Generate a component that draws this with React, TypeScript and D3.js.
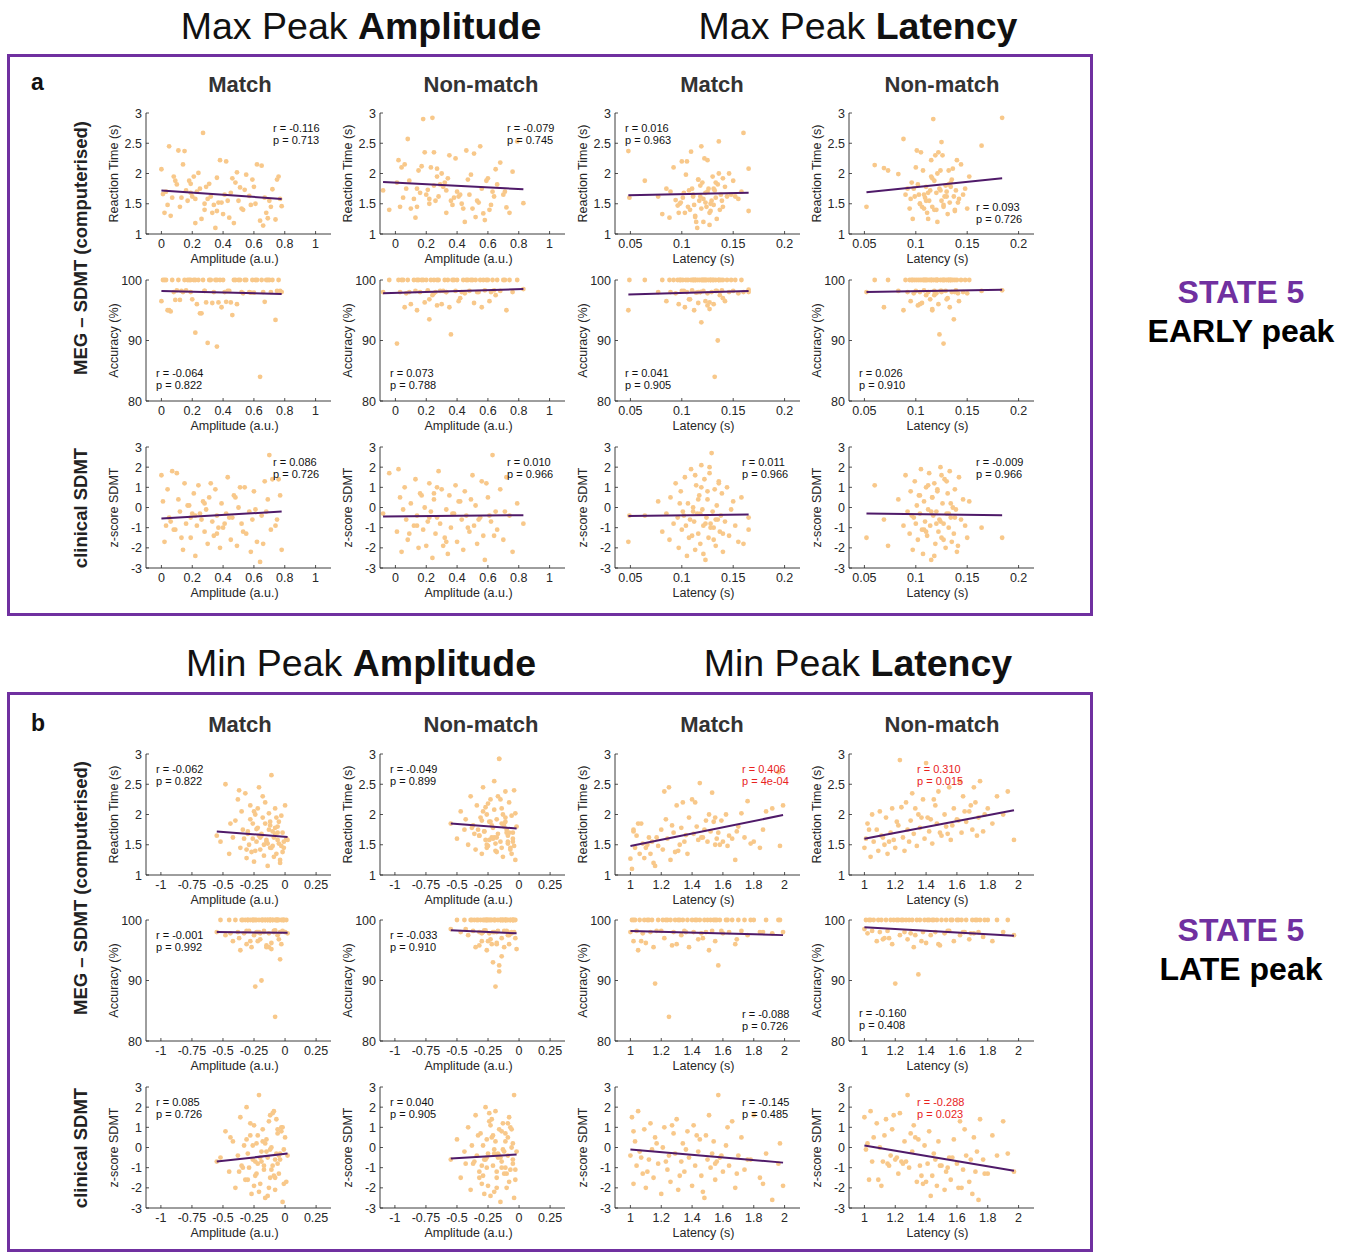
import React from 'react';
import * as d3 from 'd3';

// ---------- DATA ----------
// Panel a (EARLY peak, max peak) : shared x per column
const a1X = [0.00,0.02,0.04,0.05,0.07,0.09,0.11,0.12,0.14,0.15,0.16,0.17,0.19,0.20,0.21,0.22,0.23,0.24,0.26,0.27,0.28,0.29,0.30,0.31,0.33,0.34,0.35,0.36,0.38,0.39,0.40,0.42,0.43,0.45,0.46,0.47,0.49,0.50,0.52,0.54,0.55,0.57,0.59,0.60,0.62,0.64,0.65,0.67,0.69,0.71,0.72,0.74,0.76,0.78,0.01,0.06,0.13,0.18,0.25,0.32,0.37,0.44,0.48,0.53,0.61,0.66,0.70,0.75,0.03,0.10,0.22,0.28,0.36,0.41,0.51,0.58,0.68,0.77,0.08,0.19];
const a1RT = [2.07,1.35,1.48,2.45,1.60,1.88,2.38,1.45,2.15,2.37,1.72,1.55,1.83,1.62,1.95,1.18,1.70,2.01,1.25,2.67,1.40,1.78,1.58,1.83,1.35,1.48,1.10,1.93,2.22,1.52,1.33,2.20,1.55,1.68,1.92,1.18,2.02,1.55,1.42,1.73,1.98,1.63,1.90,1.78,2.15,1.22,2.13,1.60,1.26,1.45,1.74,1.24,1.95,1.46,1.66,1.30,1.60,1.88,1.75,1.62,1.52,1.27,1.85,1.40,1.50,1.14,1.55,1.90,1.70,1.82,1.58,1.50,1.38,1.65,1.77,1.48,1.35,1.58,1.95,1.68];
const a1Acc = [96.5,100,95.0,95.0,100,96.7,100,96.7,98.0,100,98.3,100,98.0,96.8,100,91.3,96.0,100,94.5,100,98.2,96.3,89.6,100,96.2,98.0,100,89.0,100,95.5,100,96.4,98.2,96.3,94.2,100,96.0,100,98.0,100,100,98.0,100,97.9,100,84.0,100,96.4,100,98.0,100,93.4,100,98.0,100,94.8,98.2,100,94.5,100,96.3,98.2,100,97.8,100,98.0,100,98.2,100,98.3,100,98.2,100,98.0,100,97.9,100,98.2,98.0,100];
const a1Z = [1.6,-1.7,0.9,-0.5,1.8,-1.1,0.4,-0.2,-2.1,1.2,-0.8,0.1,-1.5,-0.3,0.7,-2.4,-0.9,1.1,-0.6,0.3,-1.2,-0.1,-1.8,0.5,-0.7,-1.4,0.9,-0.4,-2.0,0.2,-1.0,-0.3,1.5,-1.6,-0.5,0.6,-1.9,0.0,-0.8,1.0,-1.3,-0.2,-0.6,0.8,-1.7,-2.7,-0.4,1.3,0.4,-1.1,1.4,-0.9,1.4,-2.1,0.3,-0.7,-1.5,0.1,-0.3,1.2,-1.0,-0.5,0.5,-1.2,-0.1,-1.8,2.6,-0.6,-0.9,1.7,-0.4,0.2,-1.3,-0.8,1.0,-2.2,-0.2,0.6,-1.1,-0.5];

const a2X = [-0.08,-0.04,0.01,0.03,0.04,0.06,0.07,0.08,0.10,0.12,0.13,0.14,0.15,0.16,0.18,0.19,0.20,0.21,0.22,0.23,0.24,0.25,0.26,0.27,0.28,0.29,0.30,0.32,0.33,0.34,0.35,0.36,0.38,0.39,0.40,0.41,0.43,0.44,0.45,0.46,0.48,0.50,0.51,0.52,0.53,0.55,0.56,0.57,0.58,0.60,0.62,0.63,0.65,0.66,0.68,0.70,0.72,0.74,0.76,0.79,0.83,0.05,0.09,0.17,0.22,0.27,0.31,0.37,0.42,0.47,0.54,0.59,0.64,0.71,0.25,0.14,0.33,0.49,0.61,0.02];
const a2RT = [1.72,1.40,1.85,1.45,2.10,2.15,1.75,2.57,1.42,1.58,1.27,1.75,2.05,1.68,2.90,2.35,1.65,1.73,1.50,2.10,2.92,2.35,1.55,2.08,1.62,1.82,2.00,1.85,1.35,1.92,2.30,1.55,1.60,2.25,1.70,1.62,1.50,1.42,1.20,2.38,1.65,1.42,2.33,1.28,1.55,2.45,1.75,1.34,1.23,1.92,1.48,1.70,2.07,1.82,2.18,1.65,1.44,1.35,2.03,2.53,1.51,1.60,1.88,2.12,1.58,1.95,1.78,1.48,1.65,1.90,1.52,1.88,1.62,1.70,1.80,1.45,1.72,1.98,1.40,2.22];
const a2Acc = [98.0,100,89.5,98.0,100,95.5,97.8,100,96.0,100,98.2,95.0,100,98.0,100,96.3,100,98.3,93.5,100,97.5,100,98.0,95.8,100,98.2,96.0,100,98.0,100,95.5,91.0,100,98.2,100,96.5,98.0,100,97.8,100,98.2,100,96.2,100,98.0,100,95.5,100,98.3,100,98.0,100,97.5,100,98.2,100,95.0,100,98.0,100,98.5,100,98.0,100,96.8,100,98.2,100,97.0,100,98.0,100,98.3,100,97.8,100,98.0,100,96.5,100];
const a2Z = [-0.3,1.7,-1.2,0.5,-2.2,1.0,-0.6,-1.6,0.2,-0.9,1.4,-0.4,-2.0,0.7,-1.1,0.0,-1.9,-0.7,1.2,-0.2,-2.5,0.4,-1.3,-0.5,1.8,-0.8,0.9,-1.5,-0.1,-2.3,0.6,-1.0,-0.3,1.1,-1.7,0.3,-0.6,-2.1,0.8,-0.4,-1.2,1.6,-0.9,0.1,-1.8,-0.5,1.3,-1.4,-2.6,0.5,-0.7,2.6,-0.2,-1.1,0.9,-1.6,1.5,-0.4,-2.2,0.2,-0.8,-0.1,-1.3,0.6,-0.5,1.0,-1.9,-0.3,0.3,-1.0,-0.6,1.2,-1.4,-0.2,0.7,-0.9,-1.7,0.4,-0.4,1.9];

const a3X = [0.048,0.049,0.064,0.077,0.081,0.085,0.088,0.089,0.092,0.094,0.096,0.097,0.099,0.100,0.101,0.103,0.104,0.105,0.106,0.108,0.109,0.110,0.111,0.112,0.113,0.114,0.115,0.116,0.117,0.118,0.119,0.120,0.121,0.122,0.123,0.124,0.125,0.126,0.127,0.128,0.129,0.130,0.131,0.132,0.133,0.134,0.135,0.136,0.137,0.138,0.139,0.140,0.142,0.144,0.146,0.148,0.150,0.152,0.155,0.158,0.160,0.165,0.098,0.107,0.113,0.118,0.121,0.125,0.128,0.133,0.136,0.140,0.111,0.116,0.123,0.127,0.131,0.102,0.119,0.165];
const a3RT = [2.37,1.60,1.88,1.62,1.33,1.75,1.27,1.70,2.10,1.56,1.47,1.35,1.52,2.20,1.60,1.35,1.98,2.20,1.45,1.40,2.36,1.75,1.65,1.48,1.28,1.20,1.10,1.90,1.55,1.62,2.45,1.85,1.20,2.25,1.68,1.45,2.22,1.75,1.15,1.38,1.55,1.95,1.48,1.72,1.60,1.25,1.82,2.00,1.40,1.65,1.55,1.92,1.78,1.62,2.00,1.65,1.88,1.62,1.58,1.70,2.67,2.08,1.50,1.72,1.30,1.80,1.58,1.70,1.50,1.85,2.53,1.45,1.62,1.90,1.52,1.35,1.75,1.68,1.42,1.38];
const a3Acc = [95.0,100,100,98.0,100,96.5,100,98.0,100,97.8,100,96.0,100,98.2,100,95.5,100,98.0,100,96.8,100,98.3,100,95.0,100,97.9,100,96.2,100,98.0,93.0,100,98.2,100,96.5,100,97.8,100,95.2,100,98.0,100,96.0,84.0,100,98.2,90.0,100,97.5,100,98.3,100,96.5,100,98.0,100,98.2,100,97.8,100,98.0,98.4,100,96.8,100,98.0,100,95.8,100,98.2,100,97.0,100,98.0,100,96.3,100,98.2,100,98.0];
const a3Z = [-1.7,-0.4,-0.4,0.3,-1.2,-0.3,-1.6,0.5,-0.8,1.2,-0.5,-2.0,0.8,-1.1,-0.2,1.5,-0.9,-2.4,0.2,-0.6,1.9,-1.4,0.0,-0.7,-2.1,1.1,-0.3,-1.3,0.6,-1.8,2.1,-0.1,-0.9,1.4,-2.6,-0.5,0.4,-1.5,1.7,-0.8,2.7,-0.2,-1.0,0.9,-1.9,0.1,-0.6,1.3,-1.2,-0.4,0.7,-2.2,-0.7,1.0,-1.4,-0.1,0.3,-0.9,-1.7,0.5,-1.8,-0.5,0.2,-1.5,1.6,-0.3,-2.3,0.8,-1.0,-0.6,1.2,-1.3,-0.2,0.4,-0.8,2.0,-1.6,-0.4,1.0,-1.1];

const a4X = [0.052,0.060,0.069,0.073,0.083,0.088,0.090,0.092,0.094,0.095,0.097,0.098,0.099,0.100,0.101,0.102,0.103,0.104,0.105,0.106,0.107,0.108,0.109,0.110,0.111,0.112,0.113,0.114,0.115,0.116,0.117,0.118,0.119,0.120,0.121,0.122,0.123,0.124,0.125,0.126,0.127,0.128,0.129,0.130,0.131,0.132,0.133,0.134,0.135,0.136,0.137,0.138,0.139,0.140,0.142,0.144,0.146,0.148,0.150,0.152,0.164,0.184,0.096,0.104,0.108,0.112,0.115,0.118,0.121,0.124,0.127,0.130,0.134,0.138,0.110,0.116,0.120,0.125,0.132,0.141];
const a4RT = [1.45,2.14,2.09,2.05,1.99,2.57,1.65,1.75,1.42,1.58,1.25,1.75,1.62,2.10,2.38,1.82,1.65,1.50,2.35,1.45,2.05,1.42,1.60,1.78,1.35,1.68,1.55,1.72,2.22,1.45,2.90,1.88,2.30,1.40,1.20,2.35,1.75,2.05,1.55,2.30,1.45,1.62,1.80,1.70,1.33,2.05,1.52,1.78,1.90,2.08,1.62,1.40,1.72,2.22,1.58,2.15,1.65,1.75,1.42,1.95,2.46,2.92,1.85,1.50,1.65,1.25,1.95,1.40,2.00,1.72,1.48,1.62,1.85,1.38,1.55,1.92,1.68,2.52,1.82,1.52];
const a4Acc = [98.0,100,95.5,100,98.2,95.0,100,98.0,100,96.5,100,97.8,100,98.2,100,95.8,100,98.0,100,96.2,100,98.3,100,97.5,100,98.0,100,96.8,100,95.2,100,98.2,100,97.8,100,96.0,91.0,100,98.0,100,89.5,100,98.2,100,97.0,100,95.5,100,98.0,100,93.5,100,98.3,100,96.5,100,98.0,100,97.8,100,98.2,98.3,100,96.0,100,98.0,100,97.5,100,98.2,100,96.8,100,98.0,100,95.0,100,98.2,100,97.8];
const a4Z = [-1.5,1.1,-0.6,-1.9,0.4,-0.9,1.6,-0.2,-1.3,0.8,-2.1,-0.5,1.3,-0.8,0.1,-1.6,0.6,-0.3,1.9,-1.1,-2.3,0.3,-0.7,1.0,-1.4,-0.1,1.7,-0.9,-2.6,0.5,-0.4,1.2,-1.8,-0.2,0.9,-1.2,-0.6,2.0,-1.5,0.2,-0.8,1.4,-2.0,-0.3,0.7,-1.0,1.8,-0.5,-1.7,0.0,-1.3,0.9,-0.1,-2.2,1.5,-0.6,0.4,-0.9,-1.5,0.3,-1.0,-1.5,-0.4,0.6,-1.1,1.1,-0.2,-2.4,0.8,-0.7,-1.6,1.3,0.2,-0.5,-1.2,0.5,-0.8,1.6,-0.3,-1.9];

// Panel b (LATE peak, min peak)
const b1X = [-0.55,-0.52,-0.48,-0.45,-0.42,-0.40,-0.38,-0.36,-0.35,-0.33,-0.32,-0.31,-0.30,-0.29,-0.28,-0.27,-0.26,-0.25,-0.24,-0.23,-0.22,-0.21,-0.20,-0.19,-0.18,-0.17,-0.16,-0.15,-0.14,-0.13,-0.12,-0.11,-0.10,-0.09,-0.08,-0.07,-0.06,-0.05,-0.04,-0.03,-0.02,-0.01,0.00,0.01,0.02,-0.34,-0.28,-0.24,-0.21,-0.18,-0.15,-0.12,-0.09,-0.06,-0.03,-0.25,-0.20,-0.16,-0.11,-0.07,-0.04,-0.30,-0.22,-0.14,-0.08,-0.02,-0.37,-0.26,-0.17,-0.10,-0.05,-0.01,-0.31,-0.19,-0.13,-0.06,-0.23,-0.12,-0.44,-0.08];
const b1RT = [1.65,1.55,2.50,1.35,1.62,1.90,2.25,1.45,2.05,1.60,2.35,1.28,1.72,1.50,2.15,1.38,1.85,1.22,2.00,1.55,1.78,2.45,1.42,1.68,1.95,1.32,2.20,1.58,1.15,1.75,1.88,2.65,1.48,1.62,2.10,1.35,1.80,1.52,1.25,1.98,1.70,1.45,2.15,1.60,1.58,1.75,1.92,1.40,1.65,2.30,1.55,1.82,1.30,1.70,1.48,2.05,1.62,1.85,1.45,1.95,1.20,1.68,2.10,1.52,1.78,1.38,2.40,1.60,1.50,1.72,1.88,1.55,1.42,1.65,2.02,1.58,1.76,1.45,1.85,1.68];
const b1Acc = [98.0,100,97.5,100,96.5,100,98.0,95.0,100,97.8,100,96.0,100,98.2,100,95.5,100,97.5,89.0,100,98.0,100,96.8,90.0,100,98.2,100,95.5,100,97.8,100,96.2,100,98.0,84.0,100,97.5,100,93.5,100,98.2,100,98.0,100,97.8,100,96.5,100,98.0,100,95.8,100,98.2,100,96.0,100,97.8,100,95.2,100,98.0,100,96.5,100,98.3,100,97.0,100,98.0,100,96.8,100,98.2,100,95.5,100,98.0,100,97.8,100];
const b1Z = [-0.7,-0.5,0.8,-1.2,0.3,-2.0,-0.4,1.5,-0.9,0.1,-1.6,2.0,-0.3,-1.0,0.6,-2.3,-0.6,1.1,-1.4,0.2,-0.8,2.6,-1.8,-0.2,0.9,-1.1,-2.5,0.4,-0.5,1.3,-1.5,0.0,-0.9,1.8,-2.1,-0.3,0.7,-1.3,-0.6,1.0,-2.7,-0.1,0.5,-1.7,-0.4,-1.0,1.2,-0.7,-2.2,0.3,-0.2,1.6,-1.4,-0.8,0.8,-1.9,-0.5,0.2,-1.1,1.4,-0.3,-1.6,0.6,-2.4,-0.6,1.0,-1.2,0.1,-0.9,1.7,-0.4,-1.8,0.4,-0.7,-2.0,0.9,-1.3,-0.1,0.5,-1.5];

const b2X = [-0.55,-0.50,-0.47,-0.44,-0.41,-0.39,-0.37,-0.35,-0.34,-0.32,-0.31,-0.30,-0.29,-0.28,-0.27,-0.26,-0.25,-0.24,-0.23,-0.22,-0.21,-0.20,-0.19,-0.18,-0.17,-0.16,-0.15,-0.14,-0.13,-0.12,-0.11,-0.10,-0.09,-0.08,-0.07,-0.06,-0.05,-0.04,-0.03,-0.02,-0.33,-0.29,-0.26,-0.23,-0.20,-0.17,-0.14,-0.11,-0.08,-0.05,-0.27,-0.22,-0.18,-0.13,-0.09,-0.04,-0.30,-0.24,-0.16,-0.10,-0.06,-0.36,-0.25,-0.19,-0.12,-0.07,-0.03,-0.28,-0.21,-0.15,-0.43,-0.38,-0.32,-0.26,-0.20,-0.14,-0.09,-0.05,-0.18,-0.11];
const b2RT = [1.85,1.60,2.05,1.75,1.50,2.30,1.82,1.42,2.15,1.65,1.95,1.35,2.45,1.72,1.58,2.00,1.48,1.88,2.25,1.62,1.78,2.55,1.40,1.92,1.68,2.92,1.55,2.10,1.30,1.85,2.38,1.70,1.52,2.20,1.45,1.98,1.60,2.40,1.25,1.80,1.75,2.05,1.50,1.88,1.62,2.30,1.45,1.95,1.70,1.55,2.12,1.82,1.38,2.00,1.65,1.48,1.90,1.58,2.92,1.75,1.35,1.68,2.18,1.52,1.80,1.42,2.02,1.72,1.60,2.25,1.92,1.78,1.65,1.45,2.08,1.85,1.55,1.70,1.62,1.88];
const b2Acc = [98.5,100,98.0,100,97.5,100,98.2,95.5,100,98.0,100,96.5,100,98.3,100,95.0,100,97.8,100,96.0,93.0,100,89.0,98.0,100,91.5,100,97.0,100,95.5,100,98.2,100,96.0,100,97.8,100,98.0,100,95.2,100,98.0,100,96.8,100,98.2,94.0,100,97.5,100,98.3,100,96.0,100,98.0,100,97.8,100,92.5,100,98.0,100,96.5,100,98.2,100,97.0,100,98.0,100,98.5,100,95.8,100,98.0,100,97.5,100,96.2,100];
const b2Z = [-0.6,0.4,-1.5,-0.2,1.0,-2.1,-0.8,1.6,-0.4,-1.2,0.7,-1.8,0.1,-0.6,2.0,-1.0,-0.3,1.3,-2.4,0.5,-0.9,-0.1,1.8,-1.5,-0.5,0.9,-2.7,-0.7,1.2,-1.3,0.3,-2.0,-0.4,1.5,-1.1,0.0,-0.8,2.6,-1.6,-0.2,0.6,-1.4,-0.5,1.1,-2.2,-0.3,0.8,-1.0,-1.7,0.2,-0.6,1.4,-1.2,-0.1,0.5,-2.5,-0.9,1.7,-0.4,-1.3,0.9,-0.7,-1.9,0.3,-0.2,1.0,-1.1,-2.3,0.6,-0.5,-0.8,0.1,-1.5,0.4,-0.3,-1.0,1.2,-0.6,-2.0,0.7];

const b3X = [1.00,1.01,1.02,1.03,1.04,1.05,1.06,1.08,1.09,1.10,1.12,1.13,1.14,1.15,1.16,1.18,1.20,1.21,1.22,1.24,1.25,1.26,1.28,1.29,1.30,1.31,1.33,1.34,1.35,1.37,1.38,1.40,1.41,1.42,1.44,1.45,1.46,1.48,1.49,1.50,1.51,1.52,1.53,1.54,1.55,1.56,1.57,1.58,1.60,1.62,1.64,1.66,1.68,1.70,1.72,1.74,1.76,1.80,1.84,1.88,1.92,1.96,1.99,1.02,1.07,1.11,1.17,1.23,1.27,1.32,1.36,1.43,1.47,1.55,1.59,1.63,1.69,1.78,1.86,1.97];
const b3RT = [1.27,1.10,1.75,1.45,1.65,1.85,1.35,1.52,1.28,1.45,1.62,1.35,1.55,1.20,1.15,1.48,1.75,1.42,2.38,1.60,2.45,1.25,1.70,1.38,2.15,1.40,1.78,2.20,1.55,1.35,1.95,2.25,1.68,2.20,1.58,2.52,1.62,1.75,1.90,1.55,2.00,1.72,2.36,1.88,1.95,1.60,1.70,1.50,1.55,2.00,1.65,1.60,1.25,1.80,2.02,1.62,2.22,1.55,1.45,2.05,2.10,2.70,2.15,1.72,1.85,1.50,1.62,1.92,1.82,1.50,1.66,1.80,1.62,1.50,1.90,1.48,1.72,1.52,1.75,1.48];
const b3Acc = [98.0,100,96.5,100,98.2,95.0,100,97.8,100,96.2,100,98.0,100,95.5,89.5,100,98.2,100,97.0,100,84.0,100,98.0,100,96.0,100,97.5,100,98.2,100,95.5,100,98.0,100,96.8,100,97.8,100,98.0,100,95.0,100,98.2,100,96.5,100,92.5,100,97.8,100,98.0,100,96.0,100,98.2,100,97.5,100,98.0,100,97.8,100,98.0,100,96.5,100,98.2,100,95.8,100,98.0,100,97.0,100,98.2,100,96.8,100,98.0,100];
const b3Z = [-0.4,1.5,-1.8,0.3,-0.9,1.8,-0.2,-1.3,0.9,-2.0,-0.6,1.2,-0.1,-1.5,0.5,-0.8,-2.3,0.0,1.0,-1.1,-0.4,-1.7,0.7,-0.3,1.4,-2.1,-0.7,0.2,-1.2,0.8,-0.5,-1.9,1.1,-0.9,-0.2,0.4,-1.4,-2.5,0.6,-0.6,1.6,-1.0,-0.3,0.3,-1.6,-0.7,2.6,-0.5,-1.2,0.1,-0.9,1.3,-2.0,-0.4,0.5,-1.1,-0.6,1.6,-1.5,-0.3,-2.6,-0.8,-1.9,0.8,-0.5,-1.2,0.2,-0.7,1.1,-1.4,-0.1,0.6,-2.2,-0.8,-0.4,1.0,-1.3,-0.6,-1.8,0.2];

const b4X = [1.00,1.01,1.02,1.04,1.05,1.06,1.08,1.09,1.10,1.11,1.13,1.14,1.15,1.17,1.18,1.19,1.20,1.22,1.23,1.25,1.26,1.27,1.28,1.29,1.30,1.31,1.32,1.34,1.35,1.36,1.38,1.39,1.40,1.42,1.43,1.44,1.46,1.47,1.48,1.50,1.52,1.53,1.55,1.56,1.58,1.60,1.62,1.63,1.64,1.66,1.68,1.70,1.71,1.72,1.74,1.75,1.77,1.80,1.83,1.86,1.90,1.93,1.97,1.03,1.12,1.21,1.33,1.41,1.49,1.57,1.65,1.73,1.16,1.24,1.37,1.45,1.54,1.61,1.69,1.78];
const b4RT = [1.45,1.60,1.85,1.30,2.00,1.55,1.75,1.40,2.05,1.65,1.50,1.95,1.35,1.70,2.10,1.58,1.45,1.82,2.90,1.62,1.40,2.20,1.75,1.55,1.90,2.35,1.68,1.48,2.00,1.78,2.25,1.60,2.85,1.72,1.92,1.52,2.15,1.85,2.38,1.65,2.00,1.80,2.45,1.58,2.10,1.92,2.55,1.70,2.30,1.88,2.05,1.75,2.45,2.20,1.95,2.55,1.72,2.10,1.85,2.30,2.00,2.38,1.58,1.75,1.62,1.88,2.10,1.95,1.70,1.82,2.05,1.65,1.55,2.12,1.95,2.25,1.68,1.90,2.15,2.00];
const b4Acc = [98.5,100,97.8,100,98.2,100,96.5,100,98.0,100,97.0,100,98.2,100,96.0,100,89.5,100,97.5,100,98.0,100,96.8,100,97.8,100,95.5,100,91.0,100,98.0,100,96.2,100,97.5,100,98.0,100,96.0,100,97.8,100,98.2,100,96.5,100,97.5,100,98.0,100,96.8,100,97.8,100,98.0,100,97.2,100,96.5,100,98.0,100,97.5,100,96.8,100,97.5,100,95.8,100,98.0,100,97.0,100,96.5,100,98.2,100,97.8,100];
const b4Z = [1.5,-0.1,0.2,1.8,-0.7,0.5,1.2,-1.6,0.0,-1.9,0.6,1.4,-0.8,-0.4,0.9,1.6,-0.6,-1.3,1.7,-0.8,0.3,-0.7,2.6,-1.0,0.7,-0.2,1.1,-1.7,0.4,-0.9,-1.8,0.1,-1.7,0.8,-2.4,-1.4,-0.6,-1.9,0.3,-0.9,-2.1,-1.2,-0.5,-1.6,0.4,-0.8,1.3,-2.0,-1.1,-0.4,-1.7,-2.3,0.5,-1.2,-2.6,1.4,-0.6,-1.3,0.6,-0.4,1.3,-0.3,-1.2,-1.6,-0.7,-0.5,0.5,-0.8,-0.9,-0.5,0.9,-0.2,-0.9,-0.7,-1.4,-0.3,-1.0,-2.0,-0.6,-1.3];

// Regression fit endpoints [x0, y0, x1, y1] (row-major: RT, Acc, z; col 1..4)
const fitsA = [
  [0, 1.72, 0.78, 1.58], [-0.08, 1.86, 0.83, 1.74], [0.048, 1.64, 0.165, 1.68], [0.052, 1.69, 0.184, 1.92],
  [0, 98.2, 0.78, 97.7], [-0.08, 97.8, 0.83, 98.5], [0.048, 97.6, 0.165, 98.2], [0.052, 98.0, 0.184, 98.4],
  [0, -0.55, 0.78, -0.2], [-0.08, -0.45, 0.83, -0.38], [0.048, -0.42, 0.165, -0.35], [0.052, -0.3, 0.184, -0.38],
];
const fitsB = [
  [-0.55, 1.72, 0.02, 1.63], [-0.55, 1.85, -0.02, 1.77], [1.0, 1.48, 1.99, 1.99], [1.0, 1.6, 1.97, 2.07],
  [-0.55, 98.0, 0.02, 97.9], [-0.55, 98.3, -0.02, 97.8], [1.0, 98.2, 1.99, 97.5], [1.0, 98.8, 1.97, 97.4],
  [-0.55, -0.7, 0.02, -0.3], [-0.55, -0.55, -0.02, -0.35], [1.0, -0.1, 1.99, -0.75], [1.0, 0.1, 1.97, -1.15],
];
const statsA = [
  ['-0.116', '0.713'], ['-0.079', '0.745'], ['0.016', '0.963'], ['0.093', '0.726'],
  ['-0.064', '0.822'], ['0.073', '0.788'], ['0.041', '0.905'], ['0.026', '0.910'],
  ['0.086', '0.726'], ['0.010', '0.966'], ['0.011', '0.966'], ['-0.009', '0.966'],
];
const statsB = [
  ['-0.062', '0.822'], ['-0.049', '0.899'], ['0.406', '4e-04'], ['0.310', '0.015'],
  ['-0.001', '0.992'], ['-0.033', '0.910'], ['-0.088', '0.726'], ['-0.160', '0.408'],
  ['0.085', '0.726'], ['0.040', '0.905'], ['-0.145', '0.485'], ['-0.288', '0.023'],
];
const statPosA = ['TR', 'TR', 'TL', 'BR', 'BL', 'BL', 'BL', 'BL', 'TR', 'TR', 'TR', 'TR'];
const statPosB = ['TL', 'TL', 'TR', 'TC', 'TL', 'TL', 'BR', 'BL', 'TL', 'TL', 'TR', 'TC'];
const sigB = [false, false, true, true, false, false, false, false, false, false, false, true];

const colTitles = ['Match', 'Non-match', 'Match', 'Non-match'];
const ampTicksA = [0, 0.2, 0.4, 0.6, 0.8, 1];
const latTicksA = [0.05, 0.1, 0.15, 0.2];
const ampTicksB = [-1, -0.75, -0.5, -0.25, 0, 0.25];
const latTicksB = [1, 1.2, 1.4, 1.6, 1.8, 2];
const rtTicks = [1, 1.5, 2, 2.5, 3];
const accTicks = [80, 90, 100];
const zTicks = [-3, -2, -1, 0, 1, 2, 3];

// ---------- STYLE / LAYOUT ----------
const FONT = '"Liberation Sans", Arial, Helvetica, sans-serif';
const PURPLE = '#7030A0';
const DOT = '#F8C88A';
const FIT = '#4F1A69';
const AX = '#262626';
const COL_X = [146, 380, 615, 849];
const PW = 185;
const PH = 121;
const ROWS_A = [113, 280, 447];
const ROWS_B = [754, 920, 1087];

const yKinds = [
  { domain: [1, 3], ticks: rtTicks, label: 'Reaction Time (s)' },
  { domain: [80, 100], ticks: accTicks, label: 'Accuracy (%)' },
  { domain: [-3, 3], ticks: zTicks, label: 'z-score SDMT' },
];

function Scatter(props: any) {
  const { left, top, xDomain, xTicks, xLabel, yk, xs, ys, fit, stat, pos, sig } = props;
  const x = d3.scaleLinear().domain(xDomain).range([left, left + PW]);
  const y = d3.scaleLinear().domain(yk.domain).range([top + PH, top]);
  const bottom = top + PH;
  const line = d3.line<number[]>().x((d) => x(d[0])).y((d) => y(d[1]));
  const fitPath = line([[fit[0], fit[1]], [fit[2], fit[3]]]) || '';
  let tx = left + 10, ty = top + 19;
  if (pos === 'TR') { tx = left + 127; ty = top + 19; }
  if (pos === 'TC') { tx = left + 68; ty = top + 19; }
  if (pos === 'BL') { tx = left + 10; ty = bottom - 24; }
  if (pos === 'BR') { tx = left + 127; ty = bottom - 23; }
  const tcol = sig ? '#E8231E' : '#111';
  return (
    <g>
      {xs.map((xv: number, i: number) => (
        <circle key={i} cx={x(xv)} cy={y(ys[i])} r={2.4} fill={DOT} />
      ))}
      <path d={fitPath} stroke={FIT} strokeWidth={2} fill="none" />
      <line x1={left} x2={left + PW} y1={bottom} y2={bottom} stroke={AX} strokeWidth={0.9} />
      <line x1={left} x2={left} y1={top} y2={bottom} stroke={AX} strokeWidth={0.9} />
      {xTicks.map((t: number) => (
        <g key={'x' + t}>
          <line x1={x(t)} x2={x(t)} y1={bottom} y2={bottom - 3} stroke={AX} strokeWidth={0.8} />
          <text x={x(t)} y={bottom + 14} textAnchor="middle" fontSize={12.5} fill={AX}>{String(t)}</text>
        </g>
      ))}
      {yk.ticks.map((t: number) => (
        <g key={'y' + t}>
          <line x1={left} x2={left + 3} y1={y(t)} y2={y(t)} stroke={AX} strokeWidth={0.8} />
          <text x={left - 4} y={y(t) + 4.5} textAnchor="end" fontSize={12.5} fill={AX}>{String(t)}</text>
        </g>
      ))}
      <text x={left + PW / 2 - 4} y={bottom + 29} textAnchor="middle" fontSize={12.5} fill={AX}>{xLabel}</text>
      <text transform={`translate(${left - 28},${top + PH / 2}) rotate(-90)`} textAnchor="middle" fontSize={12.5} fill={AX}>{yk.label}</text>
      <text x={tx} y={ty} fontSize={11} fill={tcol}>{'r = ' + stat[0]}</text>
      <text x={tx} y={ty + 12} fontSize={11} fill={tcol}>{'p = ' + stat[1]}</text>
    </g>
  );
}

function Block(props: any) {
  const { rows, xsCols, ysGrid, fits, stats, statPos, sig, ampDomain, ampTicks, latDomain, latTicks, latUnitLabel } = props;
  const out: any[] = [];
  rows.forEach((top: number, r: number) => {
    COL_X.forEach((left: number, c: number) => {
      const isAmp = c < 2;
      const idx = r * 4 + c;
      out.push(
        <Scatter
          key={idx}
          left={left}
          top={top}
          xDomain={isAmp ? ampDomain : latDomain}
          xTicks={isAmp ? ampTicks : latTicks}
          xLabel={isAmp ? 'Amplitude (a.u.)' : latUnitLabel}
          yk={yKinds[r]}
          xs={xsCols[c]}
          ys={ysGrid[r][c]}
          fit={fits[idx]}
          stat={stats[idx]}
          pos={statPos[idx]}
          sig={sig ? sig[idx] : false}
        />
      );
    });
  });
  return <g>{out}</g>;
}

export default function App() {
  const headerX = [240, 481, 712, 942];
  return (
    <svg width={1352} height={1252} style={{ position: 'absolute', left: 0, top: 0, background: '#fff' }} fontFamily={FONT}>
      <rect x={0} y={0} width={1352} height={1252} fill="#fff" />
      {/* Top titles */}
      <text x={361} y={39} textAnchor="middle" fontSize={37.5} fill="#111">Max Peak <tspan fontWeight="bold">Amplitude</tspan></text>
      <text x={858} y={39} textAnchor="middle" fontSize={37.5} fill="#111">Max Peak <tspan fontWeight="bold">Latency</tspan></text>
      <text x={361} y={676} textAnchor="middle" fontSize={37.5} fill="#111">Min Peak <tspan fontWeight="bold">Amplitude</tspan></text>
      <text x={858} y={676} textAnchor="middle" fontSize={37.5} fill="#111">Min Peak <tspan fontWeight="bold">Latency</tspan></text>

      <rect x={8.5} y={55.5} width={1083} height={559} fill="none" stroke={PURPLE} strokeWidth={3} />
      <rect x={8.5} y={693.5} width={1083} height={557} fill="none" stroke={PURPLE} strokeWidth={3} />

      <text x={31} y={90} fontSize={23} fontWeight="bold" fill="#111">a</text>
      <text x={31} y={731} fontSize={23} fontWeight="bold" fill="#111">b</text>

      {headerX.map((hx, i) => (
        <text key={'ha' + i} x={hx} y={92} textAnchor="middle" fontSize={22} fontWeight="bold" fill="#333">{colTitles[i]}</text>
      ))}
      {headerX.map((hx, i) => (
        <text key={'hb' + i} x={hx} y={732} textAnchor="middle" fontSize={22} fontWeight="bold" fill="#333">{colTitles[i]}</text>
      ))}

      <text transform="translate(87,248) rotate(-90)" textAnchor="middle" fontSize={18.5} fontWeight="bold" fill="#222">MEG – SDMT (computerised)</text>
      <text transform="translate(87,508) rotate(-90)" textAnchor="middle" fontSize={18.5} fontWeight="bold" fill="#222">clinical SDMT</text>
      <text transform="translate(87,888) rotate(-90)" textAnchor="middle" fontSize={18.5} fontWeight="bold" fill="#222">MEG – SDMT (computerised)</text>
      <text transform="translate(87,1148) rotate(-90)" textAnchor="middle" fontSize={18.5} fontWeight="bold" fill="#222">clinical SDMT</text>

      <text x={1241} y={303} textAnchor="middle" fontSize={32} fontWeight="bold" fill={PURPLE}>STATE 5</text>
      <text x={1241} y={342} textAnchor="middle" fontSize={32} fontWeight="bold" fill="#000">EARLY peak</text>
      <text x={1241} y={941} textAnchor="middle" fontSize={32} fontWeight="bold" fill={PURPLE}>STATE 5</text>
      <text x={1241} y={980} textAnchor="middle" fontSize={32} fontWeight="bold" fill="#000">LATE peak</text>

      <Block
        rows={ROWS_A}
        xsCols={[a1X, a2X, a3X, a4X]}
        ysGrid={[[a1RT, a2RT, a3RT, a4RT], [a1Acc, a2Acc, a3Acc, a4Acc], [a1Z, a2Z, a3Z, a4Z]]}
        fits={fitsA}
        stats={statsA}
        statPos={statPosA}
        sig={null}
        ampDomain={[-0.1, 1.1]}
        ampTicks={ampTicksA}
        latDomain={[0.035, 0.215]}
        latTicks={latTicksA}
        latUnitLabel="Latency (s)"
      />
      <Block
        rows={ROWS_B}
        xsCols={[b1X, b2X, b3X, b4X]}
        ysGrid={[[b1RT, b2RT, b3RT, b4RT], [b1Acc, b2Acc, b3Acc, b4Acc], [b1Z, b2Z, b3Z, b4Z]]}
        fits={fitsB}
        stats={statsB}
        statPos={statPosB}
        sig={sigB}
        ampDomain={[-1.12, 0.37]}
        ampTicks={ampTicksB}
        latDomain={[0.9, 2.1]}
        latTicks={latTicksB}
        latUnitLabel="Latency (s)"
      />
    </svg>
  );
}
